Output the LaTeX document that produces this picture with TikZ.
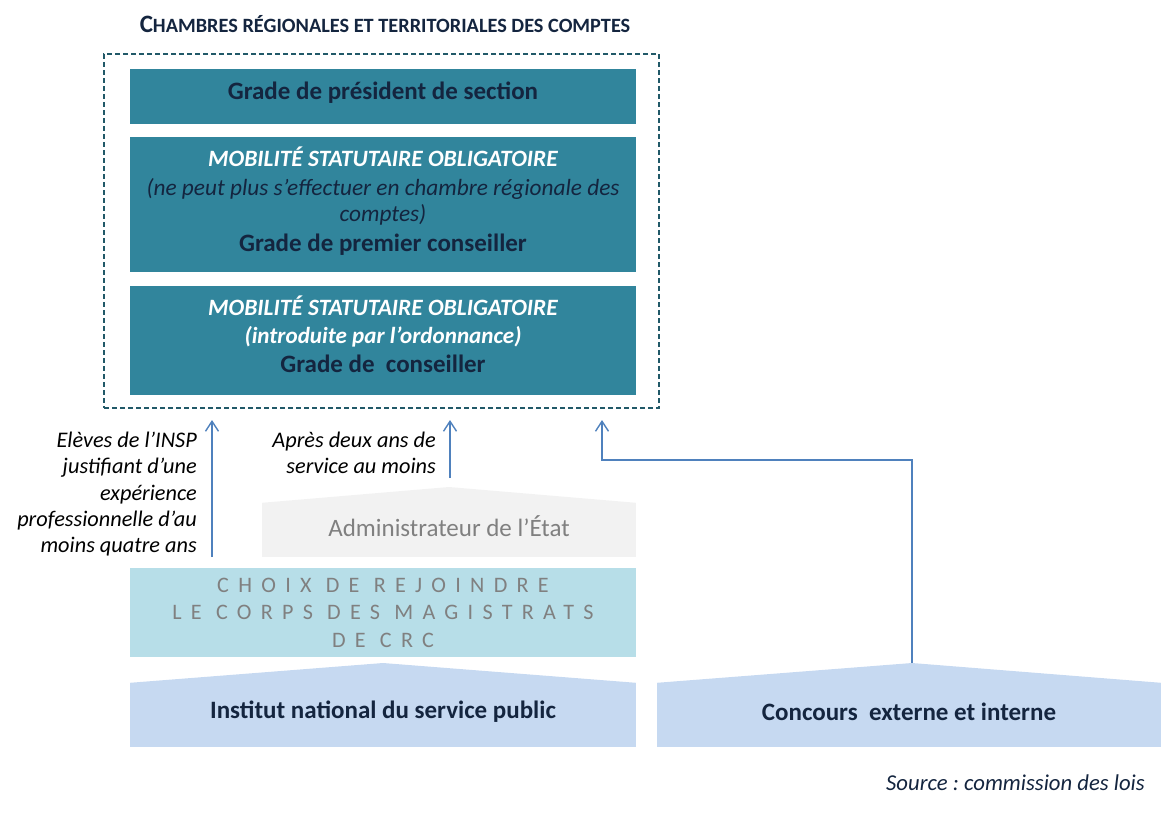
\documentclass[tikz,border=0pt]{standalone}
\usepackage{fontspec}
\setmainfont{Carlito}
\usetikzlibrary{arrows.meta}
\definecolor{crcteal}{HTML}{31859C}
\definecolor{dashcol}{HTML}{215968}
\definecolor{navy}{HTML}{14253F}
\definecolor{lgray}{HTML}{F2F2F2}
\definecolor{gtext}{HTML}{808080}
\definecolor{lblue}{HTML}{B7DEE8}
\definecolor{pblue}{HTML}{C6D9F1}
\definecolor{ablue}{HTML}{4F81BD}
\newcommand{\fs}[1]{\fontsize{#1}{27}\selectfont}
\frenchspacing
\begin{document}
\begin{tikzpicture}[x=1pt,y=-1pt,
  gradebox/.style={fill=crcteal, minimum width=506, inner sep=0},
  boxtext/.style={inner sep=0, text=navy, align=center, font=\fontsize{25}{27}\selectfont},
  lbl/.style={align=right, inner sep=0, font=\fontsize{22.3}{26.3}\selectfont\itshape},
  upar/.style={draw=ablue, line width=1.4, -{Straight Barb[length=10pt,width=13pt,line width=1.4pt]}},
  ]
\useasboundingbox (0,0) rectangle (1161,812);

% title
\node[text=navy, inner sep=0] (title) at (385,24)
  {\bfseries{\fontsize{25}{28}\selectfont C}{\fontsize{20.3}{28}\selectfont HAMBRES RÉGIONALES ET TERRITORIALES DES COMPTES}};

% dashed frame
\node[draw=dashcol, line width=1.3, dash pattern=on 5pt off 3pt, minimum width=555, minimum height=354, inner sep=0] (frame) at (381.5,231) {};

% grade boxes
\node[gradebox, minimum height=55] (b1) at (383,96.5) {};
\node[boxtext] (b1t) at (383,93) {\bfseries Grade de président de section};
\node[gradebox, minimum height=135] (b2) at (383,204.5) {};
\node[boxtext] (b2t) at (383,201)
  {{\fs{23.4}\color{white}\bfseries\itshape MOBILITÉ STATUTAIRE OBLIGATOIRE}\\[2pt]
   {\fs{23.3}\itshape (ne peut plus s’effectuer en chambre régionale des}\\[-1pt]
   {\fs{23.3}\itshape comptes)}\\[3pt]
   {\bfseries Grade de premier conseiller}};
\node[gradebox, minimum height=109] (b3) at (383,340.5) {};
\node[boxtext] (b3t) at (383,334)
  {{\fs{23.4}\color{white}\bfseries\itshape MOBILITÉ STATUTAIRE OBLIGATOIRE}\\[1pt]
   {\fs{23.1}\color{white}\bfseries\itshape (introduite par l’ordonnance)}\\[2pt]
   {\bfseries Grade de\ \ conseiller}};

% administrateur
\node[fill=lgray, minimum width=374, minimum height=54, inner sep=0] (admin) at (449,530) {};
\fill[lgray] (admin.north west) -- (449,487) coordinate (adminapex) -- (admin.north east) -- cycle;
\node[boxtext, text=gtext] (admint) at (449,526) {Administrateur de l’État};

% choix
\node[fill=lblue, minimum width=506, minimum height=89, inner sep=0, text=gtext, align=center,
  font=\fontsize{22.1}{27.5}\selectfont\addfontfeatures{LetterSpace=42}] (choix) at (383,612.5)
  {CHOIX DE REJOINDRE\\LE CORPS DES MAGISTRATS\\DE CRC};

% INSP
\node[fill=pblue, minimum width=506, minimum height=64, inner sep=0] (insp) at (383,715) {};
\fill[pblue] (insp.north west) -- (383,663) coordinate (inspapex) -- (insp.north east) -- cycle;
\node[boxtext] (inspt) at (383,712) {\bfseries Institut national du service public};

% Concours
\node[fill=pblue, minimum width=504, minimum height=64, inner sep=0] (conc) at (909,715) {};
\fill[pblue] (conc.north west) -- (912,663) coordinate (concapex) -- (conc.north east) -- cycle;
\node[boxtext] (conct) at (909,712) {\bfseries Concours\ \ externe et interne};

% labels
\node[lbl, anchor=north east] (l1) at (197,432)
  {Elèves de l’INSP\\justifiant d’une\\expérience\\professionnelle d’au\\moins quatre ans};
\node[lbl, anchor=north east] (l2) at (436,432)
  {Après deux ans de\\service au moins};

% arrows
\coordinate (a1s) at (212,557);
\coordinate (a1e) at (212,420);
\coordinate (a2s) at (450,478);
\coordinate (a2e) at (450,420);
\coordinate (a3m) at (602,460);
\coordinate (a3e) at (602,420);
\draw[upar] (a1s) -- (a1e);
\draw[upar] (a2s) -- (a2e);
\draw[upar] (concapex) |- (a3m) -- (a3e);

% source
\node[anchor=east, inner sep=0, text=navy, font=\fontsize{22.7}{26}\selectfont\itshape] (src) at (1145,783)
  {Source : commission des lois};
\end{tikzpicture}
\end{document}
